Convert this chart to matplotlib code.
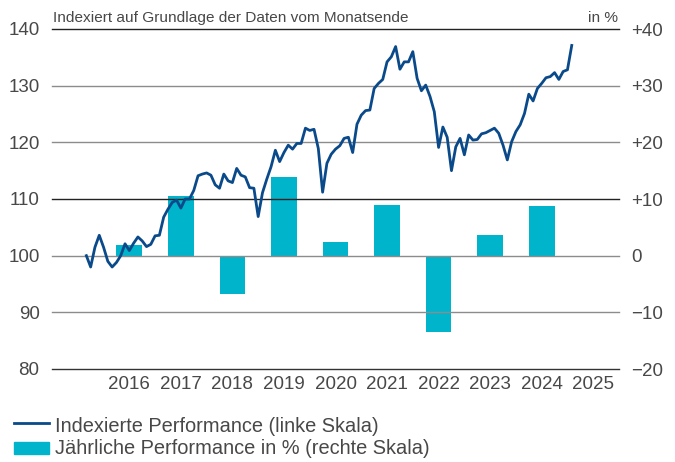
import numpy as np
import matplotlib.pyplot as plt

plt.rcParams['font.family'] = ['Liberation Sans', 'DejaVu Sans']

# monthly index values (end of month), Sep 2015 .. Feb 2025
index_values = [
    100.0, 98.0, 101.5, 103.6, 101.5, 99.0, 98.0, 98.8, 100.0, 102.1,
    100.9, 102.2, 103.3, 102.6, 101.6, 102.0, 103.5, 103.6, 106.8, 108.2,
    109.4, 109.8, 108.4, 110.0, 110.0, 111.5, 114.1, 114.4, 114.6, 114.2,
    112.5, 111.9, 114.4, 113.2, 112.9, 115.4, 114.2, 113.9, 112.0, 111.9,
    106.9, 111.1, 113.5, 115.7, 118.6, 116.6, 118.2, 119.5, 118.8, 119.8,
    119.8, 122.5, 122.1, 122.3, 118.9, 111.2, 116.3, 117.9, 118.8, 119.4,
    120.7, 120.9, 118.2, 123.2, 124.8, 125.6, 125.7, 129.5, 130.4, 131.1,
    134.2, 135.1, 136.9, 132.9, 134.2, 134.2, 136.0, 131.3, 129.1, 130.1,
    128.1, 125.4, 119.1, 122.7, 120.9, 115.0, 119.2, 120.7, 117.8, 121.3,
    120.4, 120.5, 121.5, 121.7, 122.1, 122.5, 121.6, 119.5, 116.9, 120.1,
    121.9, 123.1, 125.1, 128.5, 127.3, 129.5, 130.4, 131.4, 131.6, 132.3,
    131.1, 132.5, 132.8, 137.1,
]
start_year, start_month = 2015, 9

years = [2016, 2017, 2018, 2019, 2020, 2021, 2022, 2023, 2024]
annual_perf = [1.8, 10.6, -6.7, 13.9, 2.4, 8.9, -13.4, 3.6, 8.8]
year_labels = ["2016", "2017", "2018", "2019", "2020", "2021", "2022", "2023", "2024", "2025"]

left_ticks = [80, 90, 100, 110, 120, 130, 140]
right_ticks = [-20, -10, 0, 10, 20, 30, 40]
right_labels = ["\u221220", "\u221210", "0", "+10", "+20", "+30", "+40"]

line_color = "#0a4a8a"
bar_color = "#00b4cc"
text_color = "#484848"

t = start_year + (start_month - 1 + np.arange(len(index_values))) / 12.0

fig = plt.figure(figsize=(6.75, 4.62), dpi=100)
ax = fig.add_axes([52 / 675, 1 - 369 / 462, 567 / 675, 340 / 462])
ax2 = ax.twinx()

ax.set_xlim(2015.0, 2026.0)
ax.set_ylim(80, 140)
ax2.set_ylim(-20, 40)

# gridlines (dark ones at 140 / 110 / 80)
grid_colors = {80: "#333333", 110: "#222222", 140: "#222222"}
for v in left_ticks:
    ax.axhline(v, color=grid_colors.get(v, "#8c8c8c"), lw=1.0, zorder=0, clip_on=False)

ax2.bar([y + 0.5 for y in years], annual_perf, width=0.5, color=bar_color, zorder=2)
ax2.set_zorder(1)
ax.set_zorder(2)
ax.patch.set_visible(False)
ax.plot(t, index_values, color=line_color, lw=2.0, solid_joinstyle="round", zorder=3)

ax.set_yticks(left_ticks)
ax.set_yticklabels([str(v) for v in left_ticks])
ax2.set_yticks(right_ticks)
ax2.set_yticklabels(right_labels)
ax.set_xticks([y + 0.5 for y in range(2016, 2026)])
ax.set_xticklabels(year_labels)

for a in (ax, ax2):
    for s in a.spines.values():
        s.set_visible(False)
    a.tick_params(length=0, labelsize=13.5, colors=text_color)
ax.tick_params(axis="y", pad=9)
ax2.tick_params(axis="y", pad=9)
ax.tick_params(axis="x", pad=5)

fig.text(53 / 675, 1 - 18 / 462, "Indexiert auf Grundlage der Daten vom Monatsende",
         fontsize=11.1, color=text_color, va="center", ha="left")
fig.text(618 / 675, 1 - 18 / 462, "in %", fontsize=11.1, color=text_color,
         va="center", ha="right")

# legend
fig.add_artist(plt.Line2D([14 / 675, 49 / 675], [1 - 423 / 462] * 2,
                          color=line_color, lw=2.0, transform=fig.transFigure))
fig.add_artist(plt.Rectangle((14 / 675, 1 - 454 / 462), 35 / 675, 12 / 462,
                             color=bar_color, transform=fig.transFigure))
fig.text(55 / 675, 1 - 426 / 462, "Indexierte Performance (linke Skala)",
         fontsize=14.4, color=text_color, va="center", ha="left")
fig.text(55 / 675, 1 - 449 / 462, "Jährliche Performance in % (rechte Skala)",
         fontsize=14.4, color=text_color, va="center", ha="left")

fig.savefig("out.png", dpi=100)
